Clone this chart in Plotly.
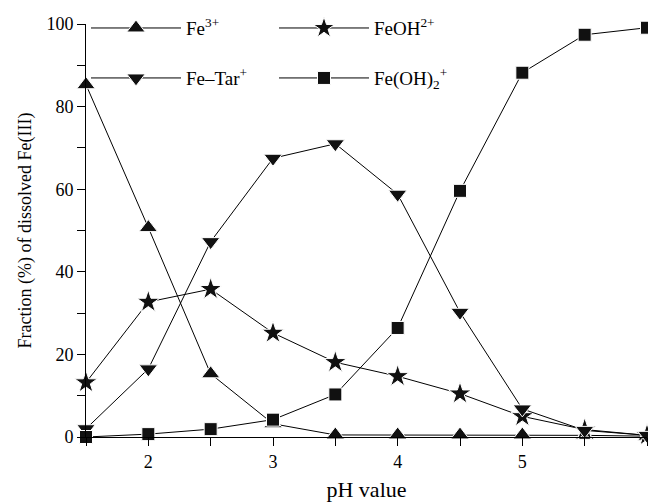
import plotly.graph_objects as go

ph = [1.5, 2, 2.5, 3, 3.5, 4, 4.5, 5, 5.5, 6]
fe3 = [85.3, 50.7, 15.3, 3.2, 0.5, 0.5, 0.5, 0.5, 0.4, 0.2]
feoh = [13.2, 32.7, 35.8, 25.2, 18.1, 14.7, 10.5, 5.0, 1.8, 0.4]
fetar = [2.0, 16.5, 47.3, 67.5, 71.0, 58.8, 30.2, 6.8, 1.6, 0.4]
feoh2 = [0.0, 0.7, 1.9, 4.2, 10.3, 26.4, 59.6, 88.2, 97.4, 99.1]

names = ["Fe<sup>3+</sup>", "FeOH<sup>2+</sup>", "Fe–Tar<sup>+</sup>", "Fe(OH)<sub>2</sub><sup>+</sup>"]
symbols = ["triangle-up", "star", "triangle-down", "square"]
sizes = [16, 17, 16, 13]
legends = ["legend", "legend", "legend2", "legend2"]
series = [fe3, feoh, fetar, feoh2]

font = "Liberation Serif"
fig = go.Figure()
for nm, sym, sz, lg, ys in zip(names, symbols, sizes, legends, series):
    fig.add_trace(go.Scatter(
        x=ph, y=ys, name=nm, mode="lines+markers", legend=lg,
        line=dict(color="black", width=1),
        marker=dict(symbol=sym, size=sz, color="#111111", line=dict(color="white", width=1)),
        cliponaxis=False,
    ))

leg = dict(orientation="h", xref="paper", yref="paper", xanchor="left", yanchor="middle",
           font=dict(family=font, size=19, color="black"), bgcolor="rgba(0,0,0,0)",
           itemwidth=90, entrywidth=83, entrywidthmode="pixels", traceorder="normal")
fig.update_layout(
    width=648, height=502,
    margin=dict(l=86, r=1, t=24, b=65),
    plot_bgcolor="white", paper_bgcolor="white",
    font=dict(family=font, size=18, color="black"),
    showlegend=True,
    legend=dict(leg, x=0.0, y=0.99),
    legend2=dict(leg, x=0.0, y=0.869),
    xaxis=dict(range=[1.5, 6], tickvals=[2, 3, 4, 5, 6], ticks="outside", ticklen=8,
               tickcolor="black", showline=True, linecolor="black", linewidth=1,
               showgrid=False, zeroline=False, title=dict(text="pH value", standoff=14),
               minor=dict(tickvals=[1.5, 2.5, 3.5, 4.5, 5.5], ticks="outside", ticklen=8, tickcolor="black")),
    yaxis=dict(range=[0, 100], tickvals=[0, 20, 40, 60, 80, 100], ticks="outside", ticklen=8,
               tickcolor="black", showline=True, linecolor="black", linewidth=1,
               showgrid=False, zeroline=False,
               title=dict(text="Fraction (%) of dissolved Fe(III)", standoff=10, font=dict(size=18)),
               minor=dict(tickvals=[10, 30, 50, 70, 90], ticks="outside", ticklen=8, tickcolor="black")),
)
fig.write_html("out.html")
